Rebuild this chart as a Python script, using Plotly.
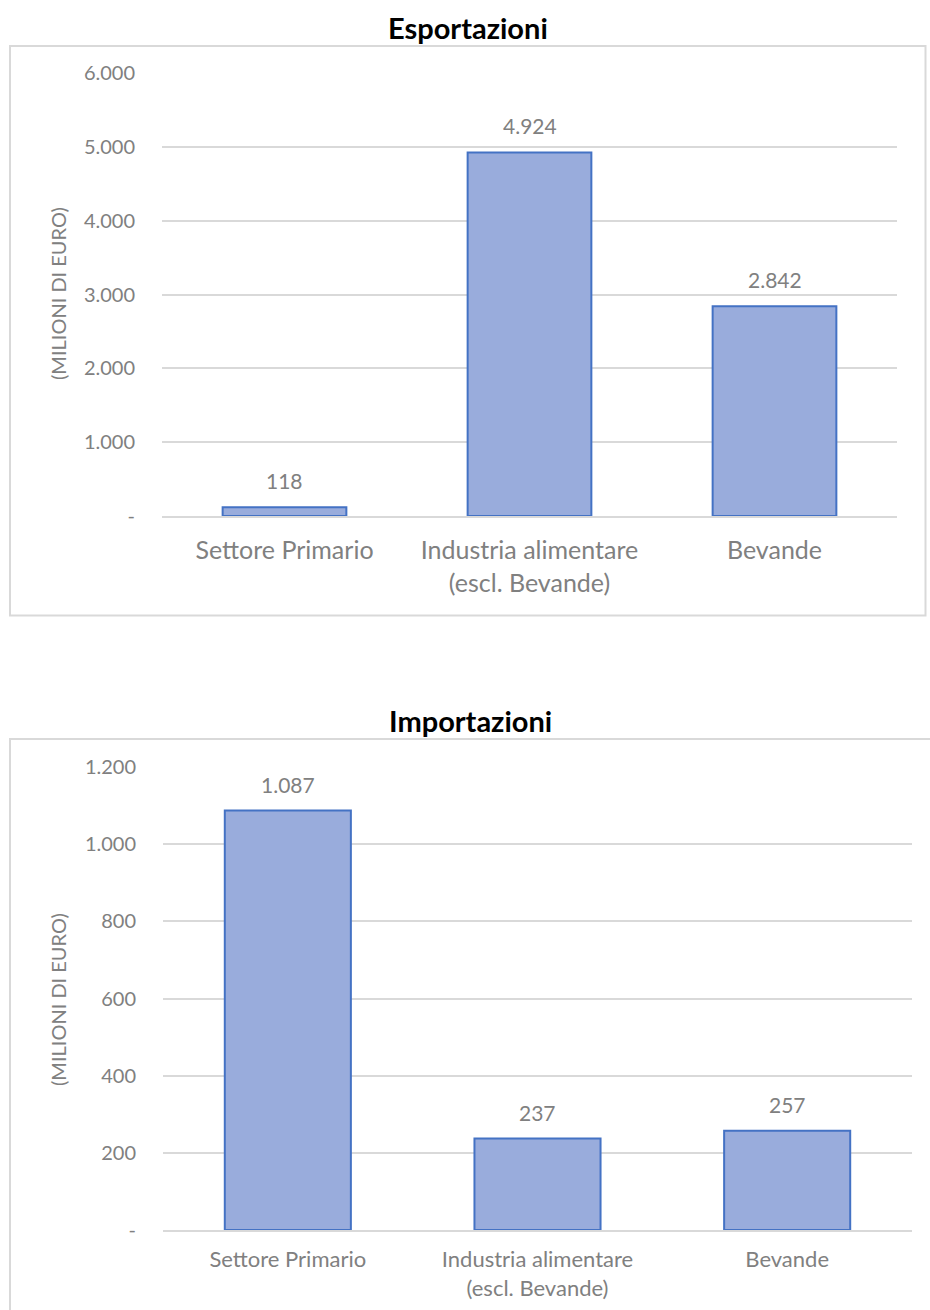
import plotly.graph_objects as go

W, H = 930, 1310

categories = ["Settore Primario", "Industria alimentare<br>(escl. Bevande)", "Bevande"]
export_values = [118, 4924, 2842]
import_values = [1087, 237, 257]

export_tickvals = [0, 1000, 2000, 3000, 4000, 5000, 6000]
export_ticktext = ["-", "1.000", "2.000", "3.000", "4.000", "5.000", "6.000"]
import_tickvals = [0, 200, 400, 600, 800, 1000, 1200]
import_ticktext = ["-", "200", "400", "600", "800", "1.000", "1.200"]

export_title = "Esportazioni"
import_title = "Importazioni"
y_title = "(MILIONI DI EURO)"


def fmt(v):
    return f"{v:,}".replace(",", ".")


def px_x(x):
    return x / W


def px_y(y):
    return 1 - y / H


FONT = "Lato"
GRAY = "#808080"
BAR_FILL = "#99acdc"
BAR_LINE = "#4472c4"
GRID = "#d9d9d9"

fig = go.Figure()

fig.add_trace(go.Bar(
    x=categories, y=export_values, xaxis="x", yaxis="y",
    marker=dict(color=BAR_FILL, line=dict(color=BAR_LINE, width=2)),
    hoverinfo="skip", showlegend=False,
))
fig.add_trace(go.Bar(
    x=categories, y=import_values, xaxis="x2", yaxis="y2",
    marker=dict(color=BAR_FILL, line=dict(color=BAR_LINE, width=2)),
    hoverinfo="skip", showlegend=False,
))

annotations = []
for c, v in zip(categories, export_values):
    annotations.append(dict(x=c, y=v, xref="x", yref="y", text=fmt(v), showarrow=False,
                            yanchor="bottom", yshift=12,
                            font=dict(family=FONT, size=21, color=GRAY)))
for c, v in zip(categories, import_values):
    annotations.append(dict(x=c, y=v, xref="x2", yref="y2", text=fmt(v), showarrow=False,
                            yanchor="bottom", yshift=12,
                            font=dict(family=FONT, size=21, color=GRAY)))

annotations += [
    dict(x=px_x(468), y=px_y(28), xref="paper", yref="paper", text=f"<b>{export_title}</b>",
         showarrow=False, xanchor="center", yanchor="middle",
         font=dict(family=FONT, size=29, color="black")),
    dict(x=px_x(470), y=px_y(720), xref="paper", yref="paper", text=f"<b>{import_title}</b>",
         showarrow=False, xanchor="center", yanchor="middle",
         font=dict(family=FONT, size=29, color="black")),
    dict(x=px_x(58), y=px_y(294), xref="paper", yref="paper", text=y_title, textangle=-90,
         showarrow=False, xanchor="center", yanchor="middle",
         font=dict(family=FONT, size=20, color=GRAY)),
    dict(x=px_x(58), y=px_y(1000), xref="paper", yref="paper", text=y_title, textangle=-90,
         showarrow=False, xanchor="center", yanchor="middle",
         font=dict(family=FONT, size=20, color=GRAY)),
]

shapes = [
    dict(type="rect", xref="paper", yref="paper",
         x0=px_x(10), x1=px_x(925.5), y0=px_y(615.5), y1=px_y(46),
         line=dict(color=GRID, width=2), fillcolor="rgba(0,0,0,0)", layer="below"),
    dict(type="rect", xref="paper", yref="paper",
         x0=px_x(10), x1=px_x(940), y0=px_y(1320), y1=px_y(739),
         line=dict(color=GRID, width=2), fillcolor="rgba(0,0,0,0)", layer="below"),
]

fig.update_layout(
    width=W, height=H,
    margin=dict(l=0, r=0, t=0, b=0, pad=0, autoexpand=False),
    paper_bgcolor="white", plot_bgcolor="white",
    bargap=0.495,
    annotations=annotations,
    shapes=shapes,
    xaxis=dict(domain=[px_x(162), px_x(897)], anchor="y", showgrid=False,
               showline=True, linecolor=GRID, linewidth=2, ticks="",
               ticklabelstandoff=11, automargin=False,
               tickfont=dict(family=FONT, size=25, color=GRAY), fixedrange=True),
    yaxis=dict(domain=[px_y(516), px_y(73)], anchor="x", range=[0, 6000],
               tickvals=export_tickvals, ticktext=export_ticktext,
               showgrid=True, gridcolor=GRID, gridwidth=2, zeroline=False,
               showline=False, ticks="", ticklabelstandoff=26, automargin=False,
               tickfont=dict(family=FONT, size=20, color=GRAY), fixedrange=True),
    xaxis2=dict(domain=[px_x(163), px_x(912)], anchor="y2", showgrid=False,
                showline=True, linecolor=GRID, linewidth=2, ticks="",
                ticklabelstandoff=9, automargin=False,
                tickfont=dict(family=FONT, size=22, color=GRAY), fixedrange=True),
    yaxis2=dict(domain=[px_y(1230), px_y(767)], anchor="x2", range=[0, 1200],
                tickvals=import_tickvals, ticktext=import_ticktext,
                showgrid=True, gridcolor=GRID, gridwidth=2, zeroline=False,
                showline=False, ticks="", ticklabelstandoff=26, automargin=False,
                tickfont=dict(family=FONT, size=20, color=GRAY), fixedrange=True),
)

fig.write_html(
    "out.html",
    config={"displayModeBar": False},
    post_script="document.body.style.margin='0';document.body.style.padding='0';",
)
